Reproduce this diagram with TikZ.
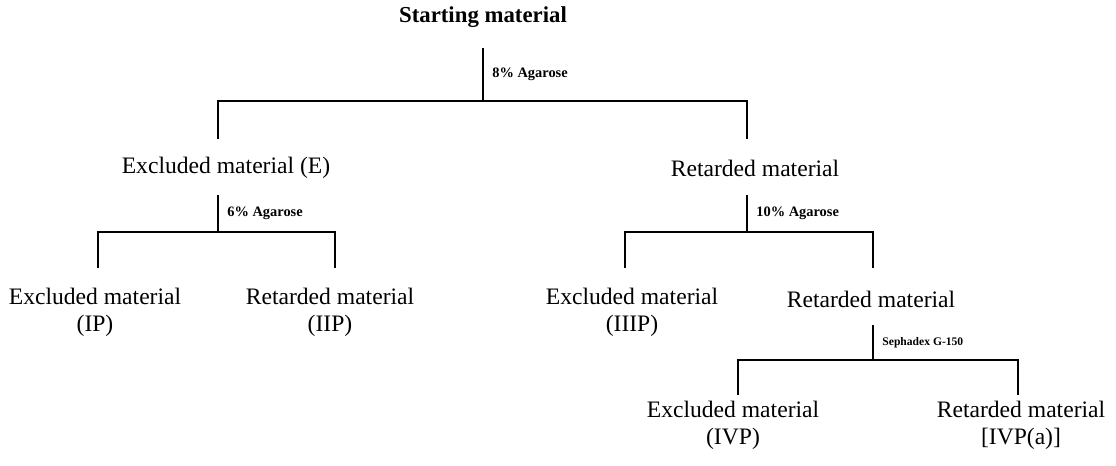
\documentclass[tikz,border=0pt]{standalone}
\usepackage{fontspec}
\setmainfont{Liberation Serif}
\usetikzlibrary{calc}
\tikzset{
  head/.style={font=\fontsize{11.4}{13.5}\bfseries\selectfont, inner sep=0pt},
  item/.style={font=\fontsize{11.8}{13.5}\selectfont, align=center, inner sep=0pt},
  gel/.style={font=\fontsize{7.2}{8}\bfseries\selectfont, anchor=west, inner sep=0pt},
  tree/.style={line width=0.7pt}
}
\begin{document}
\begin{tikzpicture}[x=0.5pt,y=-0.5pt]
  \useasboundingbox (0,0) rectangle (1116,466);
  % materials
  \node[head] (start) at (483,17) {Starting material};
  \node[item] (E) at (226,168) {Excluded material (E)};
  \node[item] (R) at (755,168) {Retarded material};
  \node[item] (IP) at (95,312) {Excluded material\\(IP)};
  \node[item] (IIP) at (330,312) {Retarded material\\(IIP)};
  \node[item] (IIIP) at (632,312) {Excluded material\\(IIIP)};
  \node[item] (RR) at (871,299) {Retarded material};
  \node[item] (IVP) at (733,425) {Excluded material\\(IVP)};
  \node[item] (IVPa) at (1021,425) {Retarded material\\{[IVP(a)]}};
  % brackets
  \foreach \i/\x/\ya/\yb/\xl/\xr/\yc/\lab in {%
    1/483/48/101/218/747/139/{8\% Agarose},
    2/218/195/232/98/335/268/{6\% Agarose},
    3/747/195/232/625/873/268/{10\% Agarose},
    4/873/325/360/738/1018/395/{\fontsize{5.8}{7}\selectfont Sephadex G-150}}{%
      \coordinate (s\i) at (\x,\ya);
      \coordinate (j\i) at (\x,\yb);
      \coordinate (l\i) at (\xl,\yc);
      \coordinate (r\i) at (\xr,\yc);
      \draw[tree] (s\i) -- (j\i);
      \draw[tree] (l\i) |- (j\i) -| (r\i);
      \node[gel] (gel\i) at ($(s\i)!.5!(j\i)+(9,0)$) {\lab};
    }
\end{tikzpicture}
\end{document}
